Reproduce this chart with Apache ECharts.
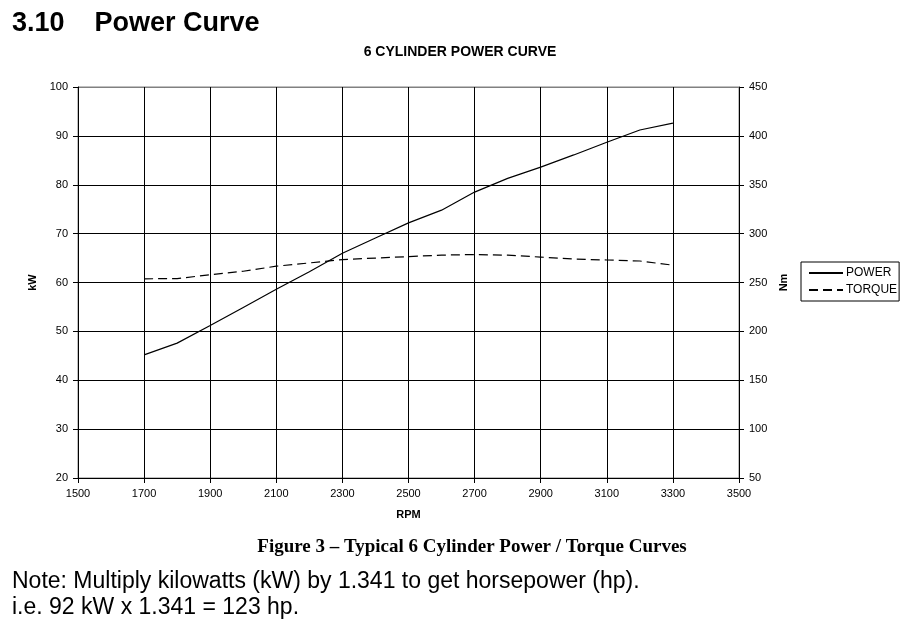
<!DOCTYPE html>
<html>
<head>
<meta charset="utf-8">
<script src="https://cdn.jsdelivr.net/npm/echarts@6/dist/echarts.min.js"></script>
<style>
  html, body { margin: 0; padding: 0; background: #fff; }
  #chart { width: 912px; height: 627px; }
</style>
</head>
<body>
<div id="chart"></div>
<script>
// rpm points along the x axis
var rpm = [1700, 1800, 1900, 2000, 2100, 2200, 2300, 2400, 2500, 2600, 2700, 2800, 2900, 3000, 3100, 3200, 3300];
// power in kW (left axis)
var power = [45.2, 47.6, 51.2, 54.9, 58.6, 62.2, 66.0, 69.1, 72.2, 74.8, 78.5, 81.3, 83.6, 86.1, 88.7, 91.2, 92.6];
// torque in Nm (right axis)
var torque = [253.8, 254, 258, 261.5, 266.7, 270, 273.5, 275, 276.5, 278, 278.6, 278, 276, 274, 273, 272, 267.7];

var pair = function (xs, ys) {
    var res = [];
    for (var i = 0; i < xs.length; i++) {
        res.push([xs[i], ys[i]]);
    }
    return res;
};

var font = 'Liberation Sans, Arial, sans-serif';
var plain = function (v) { return String(v); };
// gridlines black, the top one grey like the plot border
var kwLines = ['#000', '#000', '#000', '#000', '#000', '#000', '#000', '#000', '#808080'];

var myChart = echarts.init(document.getElementById('chart'));

var option = {
    backgroundColor: '#fff',
    animation: false,
    title: [
        {
            text: '3.10    Power Curve',
            left: 12, top: 10, padding: 0,
            textStyle: { fontFamily: font, fontSize: 27, fontWeight: 'bold', color: '#000' }
        },
        {
            text: '6 CYLINDER POWER CURVE',
            left: 460, top: 45, padding: 0, textAlign: 'center',
            textStyle: { fontFamily: font, fontSize: 14, fontWeight: 'bold', color: '#000' }
        },
        {
            text: 'Figure 3 \u2013 Typical 6 Cylinder Power / Torque Curves',
            left: 472, top: 538, padding: 0, textAlign: 'center',
            textStyle: { fontFamily: 'Liberation Serif, Times New Roman, serif', fontSize: 19, fontWeight: 'bold', color: '#000' }
        },
        {
            text: 'Note: Multiply kilowatts (kW) by 1.341 to get horsepower (hp).\ni.e. 92 kW x 1.341 = 123 hp.',
            left: 12, top: 569, padding: 0,
            textStyle: { fontFamily: font, fontSize: 23, fontWeight: 'normal', color: '#000', lineHeight: 26 }
        }
    ],
    legend: {
        orient: 'vertical',
        left: 801, top: 262,
        padding: [5, 2, 5, 7],
        itemGap: 5,
        itemWidth: 34,
        itemHeight: 10,
        borderColor: '#000',
        borderWidth: 1,
        itemStyle: { opacity: 0 },
        textStyle: { fontFamily: font, fontSize: 12, color: '#000', padding: [0, 0, 0, -2] },
        data: ['POWER', 'TORQUE']
    },
    grid: {
        left: 78, right: 173, top: 87, bottom: 149,
        show: true, borderColor: '#808080', borderWidth: 1
    },
    xAxis: {
        type: 'value',
        min: 1500, max: 3500, interval: 200,
        name: 'RPM', nameLocation: 'middle', nameGap: 31,
        nameTextStyle: { fontFamily: font, fontSize: 11, fontWeight: 'bold', color: '#000' },
        axisLine: { lineStyle: { color: '#000', width: 1 } },
        axisTick: { show: true, length: 5, lineStyle: { color: '#000' } },
        axisLabel: { fontFamily: font, fontSize: 11, color: '#000', margin: 10, formatter: plain },
        splitLine: { show: true, lineStyle: { color: '#000', width: 1 } }
    },
    yAxis: [
        {
            type: 'value',
            min: 20, max: 100, interval: 10,
            name: 'kW', nameLocation: 'middle', nameGap: 33, nameRotate: 90,
            nameTextStyle: { fontFamily: font, fontSize: 11, fontWeight: 'bold', color: '#000' },
            axisLine: { show: true, lineStyle: { color: '#000', width: 1 } },
            axisTick: { show: true, length: 5, lineStyle: { color: '#000' } },
            axisLabel: { fontFamily: font, fontSize: 11, color: '#000', margin: 10, formatter: plain },
            splitLine: { show: true, lineStyle: { color: kwLines, width: 1 } }
        },
        {
            type: 'value',
            min: 50, max: 450, interval: 50,
            position: 'right',
            name: 'Nm', nameLocation: 'middle', nameGap: 36, nameRotate: 90,
            nameTextStyle: { fontFamily: font, fontSize: 11, fontWeight: 'bold', color: '#000' },
            axisLine: { show: true, lineStyle: { color: '#000', width: 1 } },
            axisTick: { show: true, length: 5, lineStyle: { color: '#000' } },
            axisLabel: { fontFamily: font, fontSize: 11, color: '#000', margin: 10, formatter: plain },
            splitLine: { show: false }
        }
    ],
    series: [
        {
            name: 'POWER',
            type: 'line',
            yAxisIndex: 0,
            data: pair(rpm, power),
            symbol: 'none',
            itemStyle: { color: '#000' },
            lineStyle: { color: '#000', width: 1.2 }
        },
        {
            name: 'TORQUE',
            type: 'line',
            yAxisIndex: 1,
            data: pair(rpm, torque),
            symbol: 'none',
            itemStyle: { color: '#000' },
            lineStyle: { color: '#000', width: 1.2, type: [9, 5] }
        }
    ]
};

myChart.setOption(option);
</script>
</body>
</html>
